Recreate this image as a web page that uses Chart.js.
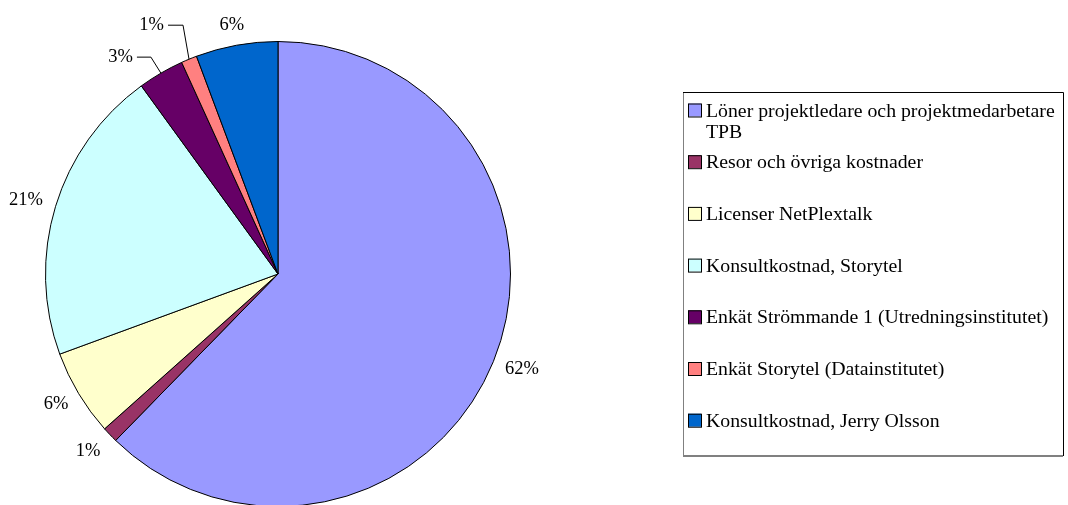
<!DOCTYPE html>
<html lang="sv">
<head>
<meta charset="UTF-8">
<title>Kostnadsfördelning</title>
<script src="https://cdn.jsdelivr.net/npm/chart.js"></script>
<style>
    html, body { margin: 0; padding: 0; background: #fff; overflow: hidden; }
    .wrap { position: relative; width: 1068px; height: 507px; }
</style>
</head>
<body>
<div class="wrap"><canvas id="costChart"></canvas></div>
<script>
// data
const categories = [
    'Löner projektledare och projektmedarbetare TPB',
    'Resor och övriga kostnader',
    'Licenser NetPlextalk',
    'Konsultkostnad, Storytel',
    'Enkät Strömmande 1 (Utredningsinstitutet)',
    'Enkät Storytel (Datainstitutet)',
    'Konsultkostnad, Jerry Olsson'
];
const shares = [62.3, 1.1, 6.0, 20.6, 3.2, 1.1, 5.7];
const sliceColors = ['#9999FF', '#993366', '#FFFFCC', '#CCFFFF', '#660066', '#FF8080', '#0066CC'];

const serif = '"Liberation Serif", "Times New Roman", serif';

// labels with leader lines (small slices at the top)
const leaders = {
    4: { dx: -10, dy: -16, arm: 14 },
    5: { dx: -6, dy: -34, arm: 15 }
};

const pctLabels = {
    id: 'pctLabels',
    afterDatasetsDraw(chart) {
        const ctx = chart.ctx;
        const arcs = chart.getDatasetMeta(0).data;
        const total = shares.reduce((a, b) => a + b, 0);
        ctx.save();
        ctx.font = '18.5px ' + serif;
        ctx.fillStyle = '#000';
        ctx.strokeStyle = '#000';
        ctx.lineWidth = 1;
        arcs.forEach((arc, i) => {
            const txt = Math.round(shares[i] / total * 100) + '%';
            const mid = (arc.startAngle + arc.endAngle) / 2;
            const c = Math.cos(mid), s = Math.sin(mid);
            const R = arc.outerRadius;
            if (leaders[i]) {
                const L = leaders[i];
                const px = arc.x + c * R, py = arc.y + s * R;
                const ex = px + L.dx, ey = py + L.dy;
                ctx.beginPath();
                ctx.moveTo(px, py);
                ctx.lineTo(ex, ey);
                ctx.lineTo(ex - L.arm, ey);
                ctx.stroke();
                ctx.textAlign = 'right';
                ctx.textBaseline = 'middle';
                ctx.fillText(txt, ex - L.arm - 4, ey);
            } else {
                const w = ctx.measureText(txt).width;
                const r = R + (shares[i] / total < 0.03 ? 18 : 14);
                const x = arc.x + c * r + c * w / 2;
                const y = arc.y + s * r + s * 6;
                ctx.textAlign = 'center';
                ctx.textBaseline = 'middle';
                ctx.fillText(txt, x, y);
            }
        });
        ctx.restore();
    }
};

const boxLegend = {
    id: 'boxLegend',
    afterDraw(chart) {
        const ctx = chart.ctx;
        const left = 683, top = 92, right = 1063, bottom = 456;
        ctx.save();
        // frame
        ctx.lineWidth = 1;
        ctx.strokeStyle = '#808080';
        ctx.beginPath();
        ctx.moveTo(left + 0.5, top);
        ctx.lineTo(left + 0.5, bottom);
        ctx.stroke();
        ctx.lineWidth = 2;
        ctx.beginPath();
        ctx.moveTo(left, bottom);
        ctx.lineTo(right, bottom);
        ctx.stroke();
        ctx.lineWidth = 1;
        ctx.strokeStyle = '#000';
        ctx.beginPath();
        ctx.moveTo(left, top + 0.5);
        ctx.lineTo(right + 0.5, top + 0.5);
        ctx.lineTo(right + 0.5, bottom);
        ctx.stroke();

        ctx.font = '19.8px ' + serif;
        ctx.textAlign = 'left';
        ctx.textBaseline = 'alphabetic';
        const textX = 706, maxW = 352;
        categories.forEach((name, i) => {
            const base = 116.5 + i * 51.7;
            // wrap
            const words = name.split(' ');
            const lines = [];
            let cur = '';
            words.forEach(wd => {
                const t = cur ? cur + ' ' + wd : wd;
                if (ctx.measureText(t).width > maxW && cur) { lines.push(cur); cur = wd; }
                else cur = t;
            });
            lines.push(cur);
            ctx.fillStyle = sliceColors[i];
            ctx.fillRect(688, base - 13, 13, 13);
            ctx.strokeStyle = '#000';
            ctx.lineWidth = 1;
            ctx.strokeRect(688.5, base - 12.5, 13, 13);
            ctx.fillStyle = '#000';
            lines.forEach((ln, k) => ctx.fillText(ln, textX, base + k * 21));
        });
        ctx.restore();
    }
};

new Chart(document.getElementById('costChart'), {
    type: 'pie',
    data: {
        labels: categories,
        datasets: [{
            data: shares,
            backgroundColor: sliceColors,
            borderColor: '#000',
            borderWidth: 1,
            hoverOffset: 0
        }]
    },
    options: {
        responsive: true,
        maintainAspectRatio: false,
        animation: false,
        events: [],
        layout: { padding: { left: 45, top: 41, right: 557, bottom: 0 } },
        plugins: {
            legend: { display: false },
            tooltip: { enabled: false }
        }
    },
    plugins: [pctLabels, boxLegend]
});
</script>
</body>
</html>
